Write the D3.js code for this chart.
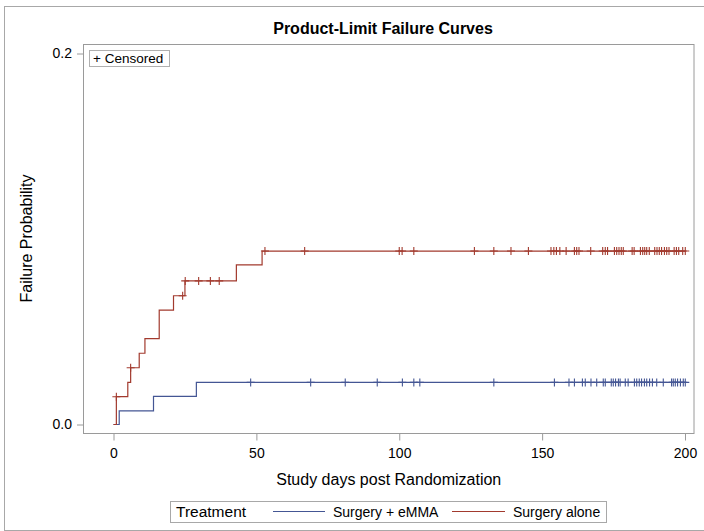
<!DOCTYPE html>
<html>
<head>
<meta charset="utf-8">
<title>Product-Limit Failure Curves</title>
<script src="https://d3js.org/d3.v7.min.js"></script>
<style>
  body { margin: 0; background: #fff; }
  svg text { font-family: 'Liberation Sans', Arial, sans-serif; fill: #000; }
</style>
</head>
<body>
<script>
// ---- data ----
var groups = ["Surgery + eMMA", "Surgery alone"];
var groupColors = ["#445694", "#A23A2E"];

// step changes: day and failure probability after that day
var emmaDays = [0, 2, 14, 29, 200.1];
var emmaProb = [0, 0.0073, 0.0152, 0.0227, 0.0227];
var aloneDays = [0, 1, 5, 6, 9, 11, 16, 21, 25, 43, 52, 200.1];
var aloneProb = [0, 0.0150, 0.0227, 0.0306, 0.0384, 0.0463, 0.0617, 0.0694, 0.0774, 0.0860, 0.0935, 0.0935];

// censored days
var emmaCens = [48.0, 69.0, 81.1, 92.3, 101.1, 105.1, 107.2, 133.1, 154.3, 159.4, 161.3, 164.1,
  165.1, 167.1, 169.1, 171.4, 172.1, 174.2, 174.9, 175.7, 176.7, 177.3, 179.1, 180.1, 182.3,
  183.1, 184.0, 184.8, 185.8, 186.6, 187.6, 188.6, 190.1, 192.4, 195.3, 195.9, 196.6, 197.4,
  198.4, 199.4, 200.1];
var aloneCens = [1, 6, 24.2, 25.1, 29.8, 33.9, 37.0, 53.0, 66.9, 100.0, 101.0, 105.1, 126.3,
  133.1, 139.1, 145.2, 153.1, 154.1, 155.0, 156.2, 158.4, 161.3, 162.1, 162.9, 167.0, 171.2,
  172.1, 172.9, 175.3, 176.1, 176.9, 177.7, 178.4, 181.5, 182.2, 184.4, 185.2, 185.9, 186.6,
  187.5, 189.4, 190.2, 191.0, 191.8, 192.8, 193.6, 194.4, 196.2, 197.0, 197.8, 199.2, 200.1];

var xTicks = [0, 50, 100, 150, 200];
var yTicks = [0, 0.2];

// ---- layout ----
var W = 704, H = 531;
var frame = {left: 83.5, right: 694, top: 44, bottom: 433};
var gray = "#9a9a9a";

var svg = d3.select("body").append("svg")
  .attr("width", W)
  .attr("height", H);

// outer border
svg.append("rect")
  .attr("x", 4.5).attr("y", 6.5)
  .attr("width", 720).attr("height", 524)
  .attr("fill", "none").attr("stroke", "#a8a8a8");

var x = d3.scaleLinear().domain([0, 200]).range([113.5, 685]);
var y = d3.scaleLinear().domain([0, 0.2]).range([424.5, 53.5]);

// title
svg.append("text")
  .attr("x", 383).attr("y", 34)
  .attr("text-anchor", "middle")
  .style("font-size", "16px")
  .style("font-weight", "bold")
  .text("Product-Limit Failure Curves");

// plot frame
svg.append("rect")
  .attr("x", frame.left).attr("y", frame.top + 0.5)
  .attr("width", frame.right - frame.left)
  .attr("height", frame.bottom - frame.top)
  .attr("fill", "none").attr("stroke", gray);

// y axis
var yAxis = d3.axisLeft(y).tickValues(yTicks).tickFormat(d3.format(".1f")).tickSize(6).tickPadding(5);
var gy = svg.append("g").attr("transform", "translate(" + (frame.left - 0.5) + ",0)").call(yAxis);
gy.select(".domain").remove();
gy.selectAll("line").attr("stroke", gray);
gy.selectAll("text").style("font-size", "14px").attr("fill", "#000");

// x axis
var xAxis = d3.axisBottom(x).tickValues(xTicks).tickSize(7).tickPadding(8);
var gx = svg.append("g").attr("transform", "translate(0," + (frame.bottom + 0.5) + ")").call(xAxis);
gx.select(".domain").remove();
gx.selectAll("line").attr("stroke", gray);
gx.selectAll("text").style("font-size", "14px").attr("fill", "#000");

// axis titles
svg.append("text")
  .attr("x", (frame.left + frame.right) / 2).attr("y", 485)
  .attr("text-anchor", "middle")
  .style("font-size", "16px")
  .text("Study days post Randomization");

svg.append("text")
  .attr("transform", "translate(32," + ((frame.top + frame.bottom) / 2) + ") rotate(-90)")
  .attr("text-anchor", "middle")
  .style("font-size", "16px")
  .text("Failure Probability");

// curves
var series = [
  {days: emmaDays, prob: emmaProb, cens: emmaCens, color: groupColors[0]},
  {days: aloneDays, prob: aloneProb, cens: aloneCens, color: groupColors[1]}
];

var line = d3.line()
  .x(function(d) { return x(d[0]); })
  .y(function(d) { return y(d[1]); })
  .curve(d3.curveStepAfter);

function probAt(s, t) {
  var p = 0;
  for (var i = 0; i < s.days.length; i++) {
    if (s.days[i] <= t) p = s.prob[i];
  }
  return p;
}

series.forEach(function(s) {
  var pts = d3.zip(s.days, s.prob);
  svg.append("path")
    .attr("d", line(pts))
    .attr("fill", "none")
    .attr("stroke", s.color)
    .attr("stroke-width", 1.2);

  var g = svg.append("g").attr("stroke", s.color).attr("stroke-width", 1.1);
  g.selectAll("path.cens")
    .data(s.cens)
    .enter()
    .append("path")
    .attr("class", "cens")
    .attr("d", function(t) {
      var cx = x(t), cy = y(probAt(s, t));
      return "M" + (cx - 4) + "," + cy + "H" + (cx + 4) +
             "M" + cx + "," + (cy - 4) + "V" + (cy + 4);
    });
});

// censored legend inside plot
svg.append("rect")
  .attr("x", 89.5).attr("y", 50.5)
  .attr("width", 80).attr("height", 16)
  .attr("fill", "#fff").attr("stroke", "#b0b0b0");
svg.append("text")
  .attr("x", 93).attr("y", 63)
  .style("font-size", "13.5px")
  .text("+ Censored");

// bottom legend
svg.append("rect")
  .attr("x", 170.5).attr("y", 501.5)
  .attr("width", 436).attr("height", 21)
  .attr("fill", "none").attr("stroke", "#a8a8a8");
svg.append("text")
  .attr("x", 176).attr("y", 517)
  .style("font-size", "15.5px")
  .text("Treatment");

var legItems = [
  {x1: 273, x2: 325, tx: 333},
  {x1: 452, x2: 505, tx: 513}
];
legItems.forEach(function(l, i) {
  svg.append("line")
    .attr("x1", l.x1).attr("x2", l.x2)
    .attr("y1", 511.5).attr("y2", 511.5)
    .attr("stroke", groupColors[i]).attr("stroke-width", 1.2);
  svg.append("text")
    .attr("x", l.tx).attr("y", 517)
    .style("font-size", "14px")
    .text(groups[i]);
});
</script>
</body>
</html>
